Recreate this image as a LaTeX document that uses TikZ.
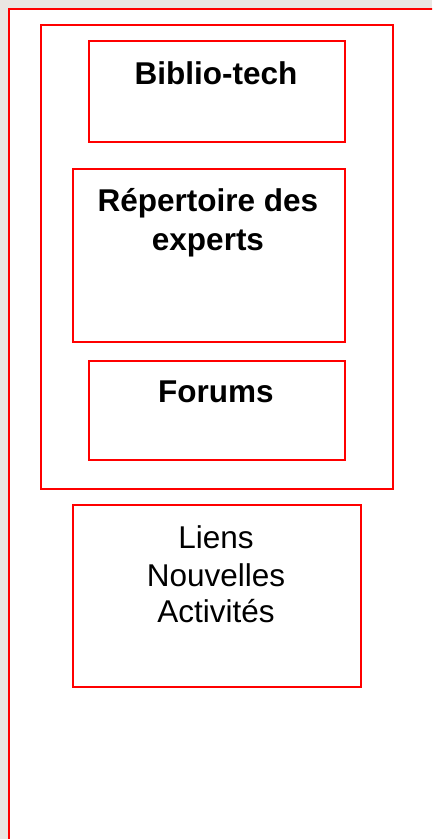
\documentclass[tikz,border=0pt]{standalone}
\usepackage{fontspec}
\setmainfont{Liberation Sans}
\definecolor{bgbeige}{HTML}{EAE6E2}
\definecolor{boxred}{HTML}{FF0000}
\tikzset{
  redbox/.style={draw=boxred, line width=1.6pt, fill=white, inner sep=0pt},
  boldtxt/.style={font=\fontsize{31.5}{36}\selectfont\bfseries, align=center, inner sep=0pt, anchor=base},
  plaintxt/.style={font=\fontsize{31.5}{36}\selectfont, align=center, inner sep=0pt, anchor=base}
}
\begin{document}
\begin{tikzpicture}[x=1pt,y=-1pt]
\useasboundingbox (0,0) rectangle (432,839);
\clip (0,0) rectangle (432,839);
\fill[bgbeige] (0,0) rectangle (432,839);
\node[redbox, minimum width=440pt, minimum height=860pt, anchor=north west] (outer) at (8,8) {};
\node[redbox, minimum width=352pt, minimum height=464pt, anchor=north west] (group) at (40,24) {};
\node[redbox, minimum width=256pt, minimum height=101pt, anchor=north west] (biblio) at (88,40) {};
\node[redbox, minimum width=272pt, minimum height=173pt, anchor=north west] (repert) at (72,168) {};
\node[redbox, minimum width=256pt, minimum height=99pt, anchor=north west] (forums) at (88,360) {};
\node[redbox, minimum width=288pt, minimum height=182pt, anchor=north west] (liens) at (72,504) {};
\node[boldtxt] (tbiblio) at (216,84) {Biblio-tech};
\node[boldtxt] (trep1) at (208,211) {Répertoire des};
\node[boldtxt] (trep2) at (208,250) {experts};
\node[boldtxt] (tforums) at (216,402) {Forums};
\node[plaintxt] (tliens) at (216,548) {Liens};
\node[plaintxt] (tnouv) at (216,586) {Nouvelles};
\node[plaintxt] (tact) at (216,622) {Activités};
\end{tikzpicture}
\end{document}
